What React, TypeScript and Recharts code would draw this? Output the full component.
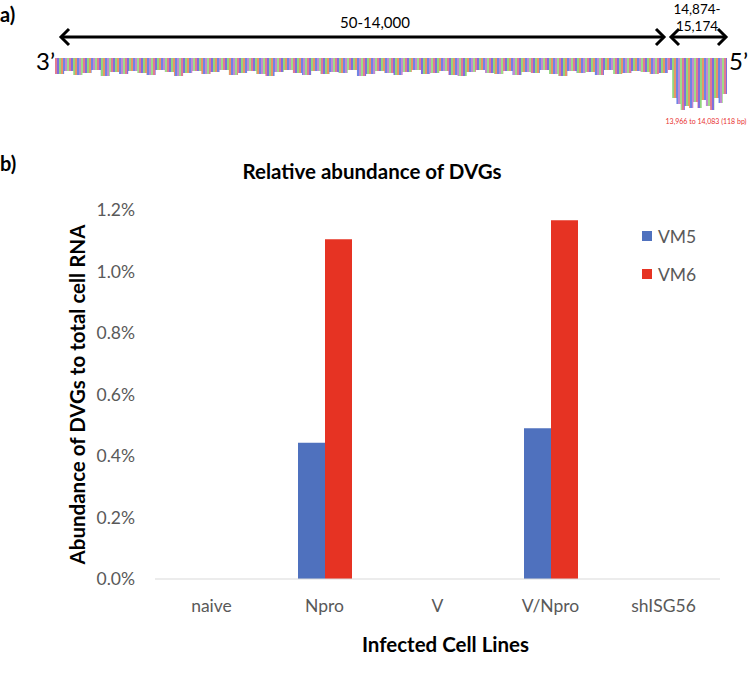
import { BarChart, Bar, XAxis, YAxis, Legend, AreaChart, Area } from "recharts";

const categories = ["naive", "Npro", "V", "V/Npro", "shISG56"];
const vm5 = [0, 0.443, 0, 0.49, 0];
const vm6 = [0, 1.105, 0, 1.167, 0];
const yTicks = [0, 0.2, 0.4, 0.6, 0.8, 1.0, 1.2];

// read pile-up depth (panel a), left block and 3'-end block
const leftDepth = [
  16, 13, 17, 15, 12, 18, 14, 16, 13, 15, 17, 12, 14, 18, 15, 13, 16, 14, 12, 17, 15, 13, 16, 18,
  14, 12, 15, 17, 13, 16, 14, 15, 12, 18, 16, 13, 15, 17, 14, 12, 16, 15, 13, 17, 18, 14, 12, 15,
  16, 13, 17, 14, 15, 12, 16, 18, 13, 15, 14, 17, 12, 16, 15, 13, 14, 16, 15, 13,
];
const rightDepth = [12, 40, 46, 52, 48, 50, 44, 50, 42, 48, 52, 40, 45, 36, 42];
const readColors = ["#E07A94", "#7F6FDC", "#92D67E", "#E89468", "#6F84E4", "#C08AD2", "#A0DC88"];

const rows = categories.map((name, i) => ({ name, VM5: vm5[i], VM6: vm6[i] }));
const leftRows = leftDepth.map((d, i) => ({ i, d }));
const rightRows = rightDepth.map((d, i) => ({ i, d }));

const font = "Lato, 'Open Sans', sans-serif";
const grey = "#595959";

const ReadPattern = ({ id }: { id: string }) => (
  <defs>
    <pattern id={id} width={readColors.length * 2} height={10} patternUnits="userSpaceOnUse">
      {readColors.map((c, k) => (
        <rect key={k} x={k * 2} y={0} width={2} height={10} fill={c} />
      ))}
    </pattern>
  </defs>
);

const LegendBox = () => (
  <div style={{ fontFamily: font, fontSize: 17.5, color: grey }}>
    {[
      { name: "VM5", color: "#4F71BE" },
      { name: "VM6", color: "#E63323" },
    ].map((it) => (
      <div key={it.name} style={{ display: "flex", alignItems: "center", height: 38 }}>
        <span style={{ width: 10, height: 10, background: it.color, marginRight: 6 }} />
        {it.name}
      </div>
    ))}
  </div>
);

const Arrow = ({ x1, x2, y }: { x1: number; x2: number; y: number }) => (
  <g stroke="#000" strokeWidth={3} fill="none">
    <line x1={x1 + 1} y1={y} x2={x2 - 1} y2={y} />
    <polyline points={`${x1 + 9},${y - 8} ${x1 + 1},${y} ${x1 + 9},${y + 8}`} />
    <polyline points={`${x2 - 9},${y - 8} ${x2 - 1},${y} ${x2 - 9},${y + 8}`} />
  </g>
);

export default function App() {
  return (
    <div style={{ position: "absolute", left: 0, top: 0, width: 750, height: 684, background: "#fff" }}>
      <div style={{ position: "absolute", left: 0, top: 0 }}>
        <BarChart
          width={750}
          height={684}
          data={rows}
          margin={{ top: 210, right: 30, bottom: 75, left: 0 }}
          barGap={0}
          barSize={27}
        >
          <XAxis
            dataKey="name"
            axisLine={{ stroke: "#D9D9D9" }}
            tickLine={false}
            tickSize={0}
            tickMargin={21}
            tick={{ fill: grey, fontSize: 17.5, fontFamily: font }}
            label={{
              value: "Infected Cell Lines",
              position: "center",
              dx: 8,
              dy: 51,
              fill: "#000",
              fontSize: 20.5,
              fontWeight: 700,
              fontFamily: font,
            }}
          />
          <YAxis
            width={155}
            domain={[0, 1.2]}
            ticks={yTicks}
            axisLine={false}
            tickLine={false}
            tickSize={0}
            tickMargin={20}
            tickFormatter={(v: number) => `${v.toFixed(1)}%`}
            tick={{ fill: grey, fontSize: 17.5, fontFamily: font }}
            label={{
              value: "Abundance of DVGs to total cell RNA",
              position: "center",
              angle: -90,
              fill: "#000",
              fontSize: 20.5,
              fontWeight: 700,
              fontFamily: font,
            }}
          />
          <Legend
            layout="horizontal"
            align="center"
            verticalAlign="middle"
            content={() => <LegendBox />}
            wrapperStyle={{ position: "absolute", left: 642, top: 217, width: 90 }}
          />
          <Bar dataKey="VM5" fill="#4F71BE" isAnimationActive={false} />
          <Bar dataKey="VM6" fill="#E63323" isAnimationActive={false} />
        </BarChart>
      </div>

      <div style={{ position: "absolute", left: 55, top: 58 }}>
        <AreaChart width={613} height={20} data={leftRows} margin={{ top: 0, right: 0, bottom: 0, left: 0 }}>
          <ReadPattern id="readsL" />
          <XAxis dataKey="i" hide />
          <YAxis hide reversed domain={[0, 20]} />
          <Area type="stepAfter" dataKey="d" stroke="none" fill="url(#readsL)" fillOpacity={1} isAnimationActive={false} />
        </AreaChart>
      </div>
      <div style={{ position: "absolute", left: 668, top: 58 }}>
        <AreaChart width={59} height={56} data={rightRows} margin={{ top: 0, right: 0, bottom: 0, left: 0 }}>
          <ReadPattern id="readsR" />
          <XAxis dataKey="i" hide />
          <YAxis hide reversed domain={[0, 56]} />
          <Area type="stepAfter" dataKey="d" stroke="none" fill="url(#readsR)" fillOpacity={1} isAnimationActive={false} />
        </AreaChart>
      </div>

      <svg width={750} height={684} style={{ position: "absolute", left: 0, top: 0, pointerEvents: "none" }}>
        <g fontFamily={font}>
          <text x={0} y={22} fontSize={20} fontWeight={700}>a)</text>
          <text x={0} y={171} fontSize={20} fontWeight={700}>b)</text>
          <text x={375} y={28} fontSize={15} textAnchor="middle">50-14,000</text>
          <text x={697} y={14} fontSize={13.5} textAnchor="middle">14,874-</text>
          <text x={697} y={31} fontSize={13.5} textAnchor="middle">15,174</text>
          <text x={36} y={70} fontSize={24}>3’</text>
          <text x={729} y={70} fontSize={24}>5’</text>
          <text x={706} y={124} fontSize={7} textAnchor="middle" fill="#E83030">13,966 to 14,083 (118 bp)</text>
          <text x={372} y={179} fontSize={20.5} fontWeight={700} textAnchor="middle">Relative abundance of DVGs</text>
        </g>
        <Arrow x1={60} x2={665} y={37} />
        <Arrow x1={670} x2={727} y={37} />
      </svg>
    </div>
  );
}
